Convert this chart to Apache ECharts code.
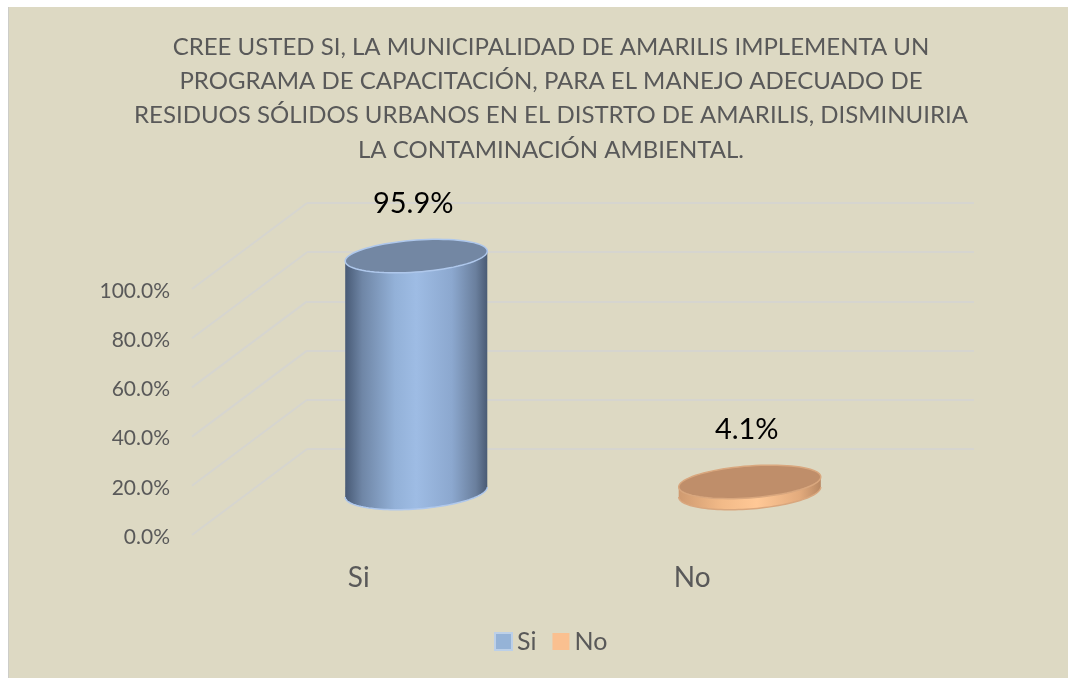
<!DOCTYPE html>
<html><head><meta charset="utf-8">
<script src="https://cdn.jsdelivr.net/npm/echarts@6/dist/echarts.min.js"></script>
<style>
html,body{margin:0;padding:0;background:#fff;overflow:hidden}
#bg{position:absolute;left:8px;top:7px;width:1060px;height:671px;background:#DDD9C3;border-left:1px solid #CDCDC8;box-sizing:border-box}
#chart{position:absolute;left:0;top:0;width:1068px;height:678px}
</style></head>
<body><div id="bg"></div><div id="chart"></div>
<script>
const titleLines = [
  'CREE USTED SI, LA MUNICIPALIDAD DE AMARILIS IMPLEMENTA UN',
  'PROGRAMA DE CAPACITACIÓN, PARA EL MANEJO ADECUADO DE',
  'RESIDUOS SÓLIDOS URBANOS EN EL DISTRTO DE AMARILIS, DISMINUIRIA',
  'LA CONTAMINACIÓN AMBIENTAL.'
];
const categories = ['Si', 'No'];
const values = [95.9, 4.1];
const yTicks = [0, 20, 40, 60, 80, 100];

// 3D depth offset (front - back)
const DX = -115, DY = 86;
const HX = DX / 2, HY = DY / 2;
const FONT = 'Lato, "Open Sans", sans-serif';

const palettes = {
  Si: {
    side: [[0,'#485A75'],[0.12,'#6F86A6'],[0.35,'#93B1D8'],[0.5,'#9EBCE4'],[0.75,'#8CA8CF'],[0.92,'#6A7F9D'],[1,'#4A5B74']],
    top: '#7387A3', stroke: '#AFC8EC'
  },
  No: {
    side: [[0,'#CF9A70'],[0.3,'#F2BA88'],[0.55,'#FFC896'],[0.85,'#E3AB7D'],[1,'#B88863']],
    top: '#BF8E6A', stroke: '#D9A77E'
  }
};

function ellPt(cx, cy, rx, ry, sh, t) {
  return [cx + rx * Math.cos(t), cy + ry * Math.sin(t) - sh * Math.cos(t)];
}
function ellPts(cx, cy, rx, ry, sh, t0, t1, n) {
  const pts = [];
  for (let i = 0; i <= n; i++) pts.push(ellPt(cx, cy, rx, ry, sh, t0 + (t1 - t0) * i / n));
  return pts;
}

function cylinderItem(name) {
  return function (params, api) {
    const ci = api.value(0), v = api.value(1);
    const base = api.coord([ci, 0]);
    const top = api.coord([ci, v]);
    const bw = api.size([1, 0])[0];
    const rx = bw * 0.213;
    const cx = base[0] + HX;
    const by = base[1] + HY;
    const ty = top[1] + HY;
    const ry = 16, sh = 5;
    const pal = palettes[name];
    const bottomArc = ellPts(cx, by, rx, ry + 1, sh, Math.PI, 0, 60);
    const body = bottomArc.concat([ellPt(cx, ty, rx, ry, sh, 0), ellPt(cx, ty, rx, ry, sh, Math.PI)]);
    const topEll = ellPts(cx, ty, rx, ry, sh, 0, Math.PI * 2, 80);
    return {
      type: 'group',
      children: [
        { type: 'polygon', shape: { points: body },
          style: { fill: { type: 'linear', x: 0, y: 0, x2: 1, y2: 0, colorStops: pal.side.map(s => ({offset: s[0], color: s[1]})) } } },
        { type: 'polyline', shape: { points: bottomArc }, style: { stroke: pal.stroke, lineWidth: 1.5, fill: null } },
        { type: 'polygon', shape: { points: topEll }, style: { fill: pal.top, stroke: pal.stroke, lineWidth: 1.5 } },
        { type: 'text', style: { text: v.toFixed(1) + '%', x: cx - 3, y: ty - 52, align: 'center', verticalAlign: 'middle',
            fontSize: 29, fontFamily: FONT, fill: '#000000' } }
      ]
    };
  };
}

const chart = echarts.init(document.getElementById('chart'), null, { renderer: 'canvas' });
const option = {
  backgroundColor: 'transparent',
  animation: false,
  title: {
    text: titleLines.join('\n'),
    left: 546, top: 25, textAlign: 'center',
    textStyle: { fontSize: 24, lineHeight: 34.3, color: '#595959', fontWeight: 'normal', fontFamily: FONT }
  },
  legend: {
    data: categories, left: 489, top: 624, icon: 'rect', itemWidth: 17, itemHeight: 17, itemGap: 16,
    textStyle: { fontSize: 25, color: '#595959', fontFamily: FONT }
  },
  grid: [
    { left: 307, right: 94, top: 203, bottom: 229 },
    { left: 192, right: 209, top: 291, bottom: 141 }
  ],
  xAxis: [
    { gridIndex: 0, type: 'category', data: categories, axisLine: {show: false}, axisTick: {show: false}, axisLabel: {show: false} },
    { gridIndex: 1, type: 'category', data: categories, axisLine: {show: false}, axisTick: {show: false},
      axisLabel: { fontSize: 28, color: '#595959', fontFamily: FONT, margin: 27 } }
  ],
  yAxis: [
    { gridIndex: 0, type: 'value', min: 0, max: 100, interval: 20, axisLabel: {show: false},
      splitLine: { lineStyle: { color: '#D6D5CF', width: 2 } } },
    { gridIndex: 1, type: 'value', min: 0, max: 100, interval: 20, splitLine: {show: false},
      axisLabel: { fontSize: 21, color: '#595959', fontFamily: FONT, margin: 22, formatter: v => v.toFixed(1) + '%' } }
  ],
  series: [
    { type: 'custom', name: 'wall', xAxisIndex: 0, yAxisIndex: 0, silent: true,
      data: yTicks.map(v => [0, v]),
      renderItem: function (params, api) {
        const p = api.coord([0, api.value(1)]);
        const x0 = params.coordSys.x;
        return { type: 'line', shape: { x1: x0, y1: p[1], x2: x0 + DX, y2: p[1] + DY },
          style: { stroke: '#D6D5CF', lineWidth: 2 } };
      } },
    { type: 'custom', name: 'Si', xAxisIndex: 0, yAxisIndex: 0,
      itemStyle: { color: '#95B3D7', borderColor: '#BCD0E8', borderWidth: 2 },
      data: [[0, values[0]]], renderItem: cylinderItem('Si') },
    { type: 'custom', name: 'No', xAxisIndex: 0, yAxisIndex: 0,
      itemStyle: { color: '#FAC090' },
      data: [[1, values[1]]], renderItem: cylinderItem('No') }
  ]
};
chart.setOption(option);
</script>
</body></html>
